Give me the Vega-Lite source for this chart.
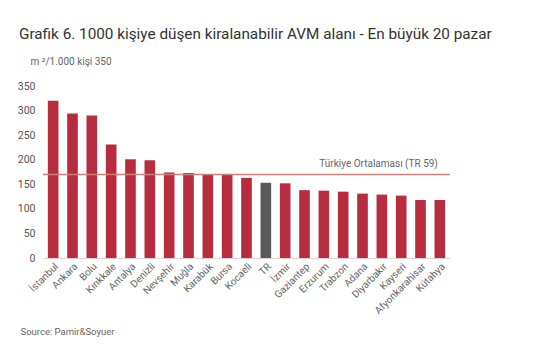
{
  "$schema": "https://vega.github.io/schema/vega-lite/v6.json",
  "width": 407,
  "height": 172,
  "autosize": "none",
  "padding": {"left": 43, "top": 86, "right": 105, "bottom": 97},
  "background": "white",
  "config": {"view": {"stroke": null}, "font": "Roboto"},
  "title": {
    "text": "Grafik 6. 1000 kişiye düşen kiralanabilir AVM alanı - En büyük 20 pazar",
    "anchor": "start",
    "frame": "group",
    "dx": -24,
    "offset": 14,
    "fontSize": 15.3,
    "fontWeight": "normal",
    "color": "#333333",
    "font": "Roboto"
  },
  "data": {
    "values": [
      {"city": "İstanbul", "value": 320, "type": "il"},
      {"city": "Ankara", "value": 294, "type": "il"},
      {"city": "Bolu", "value": 290, "type": "il"},
      {"city": "Kırıkkale", "value": 231, "type": "il"},
      {"city": "Antalya", "value": 201, "type": "il"},
      {"city": "Denizli", "value": 199, "type": "il"},
      {"city": "Nevşehir", "value": 174, "type": "il"},
      {"city": "Muğla", "value": 173, "type": "il"},
      {"city": "Karabük", "value": 170, "type": "il"},
      {"city": "Bursa", "value": 169, "type": "il"},
      {"city": "Kocaeli", "value": 163, "type": "il"},
      {"city": "TR", "value": 153, "type": "tr"},
      {"city": "İzmir", "value": 152, "type": "il"},
      {"city": "Gaziantep", "value": 138, "type": "il"},
      {"city": "Erzurum", "value": 137, "type": "il"},
      {"city": "Trabzon", "value": 135, "type": "il"},
      {"city": "Adana", "value": 131, "type": "il"},
      {"city": "Diyarbakır", "value": 129, "type": "il"},
      {"city": "Kayseri", "value": 127, "type": "il"},
      {"city": "Afyonkarahisar", "value": 118, "type": "il"},
      {"city": "Kütahya", "value": 118, "type": "il"}
    ]
  },
  "layer": [
    {
      "mark": {"type": "bar"},
      "encoding": {
        "x": {
          "field": "city",
          "type": "nominal",
          "sort": null,
          "scale": {"paddingInner": 0.45, "paddingOuter": 0.25},
          "axis": {
            "title": "Source: Pamir&Soyuer",
            "titleX": -23,
            "titleY": 76,
            "titleAlign": "left",
            "titleBaseline": "alphabetic",
            "titleFontSize": 9.5,
            "titleFontWeight": "normal",
            "titleColor": "#666666",
            "labelAngle": -45,
            "labelAlign": "right",
            "labelBaseline": "top",
            "labelFontSize": 10,
            "labelColor": "#666666",
            "labelPadding": 3,
            "ticks": false,
            "domainColor": "#e8cfcf",
            "domainWidth": 1
          }
        },
        "y": {
          "field": "value",
          "type": "quantitative",
          "scale": {"domain": [0, 350]},
          "axis": {
            "values": [0, 50, 100, 150, 200, 250, 300, 350],
            "labelOverlap": false,
            "grid": false,
            "domain": false,
            "ticks": false,
            "labelFontSize": 10.5,
            "labelColor": "#555555",
            "labelPadding": 8,
            "title": "m ²/1.000 kişi 350",
            "titleAngle": 0,
            "titleX": -13,
            "titleY": -22,
            "titleAlign": "left",
            "titleBaseline": "alphabetic",
            "titleFontSize": 10,
            "titleFontWeight": "normal",
            "titleColor": "#666666"
          }
        },
        "color": {
          "field": "type",
          "type": "nominal",
          "scale": {"domain": ["il", "tr"], "range": ["#b82c40", "#58595b"]},
          "legend": null
        }
      }
    },
    {
      "data": {"values": [{"avg": 170}]},
      "mark": {"type": "rule", "color": "#cf7f7a", "strokeWidth": 1.5},
      "encoding": {
        "y": {
          "field": "avg",
          "type": "quantitative",
          "axis": {
            "values": [0, 50, 100, 150, 200, 250, 300, 350],
            "labelOverlap": false,
            "grid": false,
            "domain": false,
            "ticks": false,
            "labelFontSize": 10.5,
            "labelColor": "#555555",
            "labelPadding": 8,
            "title": "m ²/1.000 kişi 350",
            "titleAngle": 0,
            "titleX": -13,
            "titleY": -22,
            "titleAlign": "left",
            "titleBaseline": "alphabetic",
            "titleFontSize": 10,
            "titleFontWeight": "normal",
            "titleColor": "#666666"
          }
        }
      }
    },
    {
      "data": {"values": [{"avg": 170, "label": "Türkiye Ortalaması (TR 59)", "city": "Kütahya"}]},
      "mark": {"type": "text", "align": "right", "baseline": "alphabetic", "dy": -7, "dx": -2, "fontSize": 10, "color": "#666666"},
      "encoding": {
        "x": {"field": "city", "type": "nominal", "sort": null},
        "y": {
          "field": "avg",
          "type": "quantitative",
          "axis": {
            "values": [0, 50, 100, 150, 200, 250, 300, 350],
            "labelOverlap": false,
            "grid": false,
            "domain": false,
            "ticks": false,
            "labelFontSize": 10.5,
            "labelColor": "#555555",
            "labelPadding": 8,
            "title": "m ²/1.000 kişi 350",
            "titleAngle": 0,
            "titleX": -13,
            "titleY": -22,
            "titleAlign": "left",
            "titleBaseline": "alphabetic",
            "titleFontSize": 10,
            "titleFontWeight": "normal",
            "titleColor": "#666666"
          }
        },
        "text": {"field": "label"}
      }
    }
  ]
}
